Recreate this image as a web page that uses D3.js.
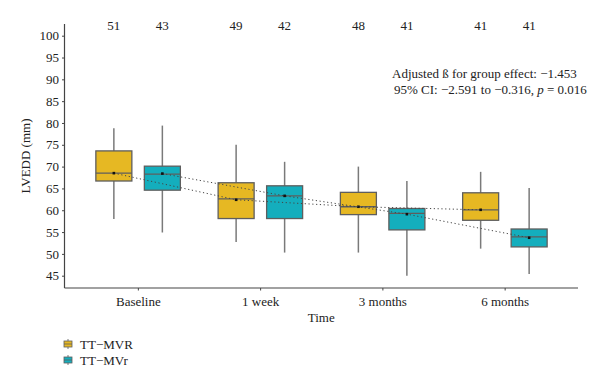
<!DOCTYPE html>
<html>
<head>
<meta charset="utf-8">
<script src="https://cdn.jsdelivr.net/npm/d3@7"></script>
<style>
  body { margin: 0; background: #fff; }
  svg text { font-family: "Liberation Serif", "DejaVu Serif", serif; fill: #222; }
</style>
</head>
<body>
<svg id="svg" width="600" height="386"></svg>
<script>
"use strict";
// data
const timepoints = ["Baseline", "1 week", "3 months", "6 months"];
const groups = ["TT\u2212MVR", "TT\u2212MVr"];
const groupColors = ["#e6b823", "#14aebd"];
// [whiskerLow, q1, median, q3, whiskerHigh, mean] per time point
const statsMVR = [
  [58.0, 66.7, 68.5, 73.6, 78.8, 68.5],
  [52.7, 58.1, 62.6, 66.3, 75.0, 62.4],
  [50.3, 59.0, 60.8, 64.1, 70.0, 60.8],
  [51.2, 57.7, 60.1, 64.0, 68.8, 60.1]
];
const statsMVr = [
  [54.9, 64.6, 68.3, 70.1, 79.4, 68.4],
  [50.3, 58.1, 63.3, 65.6, 71.1, 63.3],
  [45.0, 55.5, 59.3, 60.4, 66.7, 59.1],
  [45.4, 51.6, 53.9, 55.7, 65.1, 53.7]
];
const countsMVR = [51, 49, 48, 41];
const countsMVr = [43, 42, 41, 41];
const yTicks = [45, 50, 55, 60, 65, 70, 75, 80, 85, 90, 95, 100];
const annotation = ["Adjusted \u00df for group effect: \u22121.453", "95% CI: \u22122.591 to \u22120.316, "];

function main() {
    const svg = d3.select("#svg");
    const left = 64.5, right = 578, top = 24, bottom = 288;

    const x = d3.scalePoint().domain(timepoints).range([left, right]).padding(0.6);
    const y = d3.scaleLinear().domain([45, 100]).range([275.7, 35.7]);
    const offset = [-24, 24.5];
    const boxW = 36;

    const allStats = [statsMVR, statsMVr];
    const allCounts = [countsMVR, countsMVr];

    // axes
    const yAxis = svg.append("g")
        .attr("transform", `translate(${left},0)`)
        .call(d3.axisLeft(y).tickValues(yTicks).tickSize(2.5).tickPadding(3));
    yAxis.select(".domain").remove();
    yAxis.selectAll("line").attr("stroke", "#444");
    yAxis.selectAll("text").attr("font-size", 13).attr("font-family", "Liberation Serif").attr("fill", "#222");

    const xAxis = svg.append("g")
        .attr("transform", `translate(0,${bottom})`)
        .call(d3.axisBottom(x).tickSize(2.5).tickPadding(6));
    xAxis.select(".domain").remove();
    xAxis.selectAll("line").attr("stroke", "#444");
    xAxis.selectAll("text").attr("font-size", 13).attr("font-family", "Liberation Serif").attr("fill", "#222");

    svg.append("line").attr("x1", left).attr("x2", left).attr("y1", top).attr("y2", bottom)
        .attr("stroke", "#444").attr("stroke-width", 1.2);
    svg.append("line").attr("x1", left).attr("x2", right).attr("y1", bottom).attr("y2", bottom)
        .attr("stroke", "#444").attr("stroke-width", 1.2);

    // boxes
    allStats.forEach((stats, g) => {
        const gg = svg.append("g");
        stats.forEach((s, i) => {
            const cx = x(timepoints[i]) + offset[g];
            gg.append("line").attr("x1", cx).attr("x2", cx)
                .attr("y1", y(s[0])).attr("y2", y(s[4]))
                .attr("stroke", "#7a7a7a").attr("stroke-width", 1.5);
            gg.append("rect").attr("x", cx - boxW / 2).attr("width", boxW)
                .attr("y", y(s[3])).attr("height", y(s[1]) - y(s[3]))
                .attr("fill", groupColors[g]).attr("stroke", "#5e5e5e").attr("stroke-width", 1.3);
            gg.append("line").attr("x1", cx - boxW / 2).attr("x2", cx + boxW / 2)
                .attr("y1", y(s[2])).attr("y2", y(s[2]))
                .attr("stroke", "#5e5e5e").attr("stroke-width", 1.3);
        });
    });

    // mean lines and dots
    allStats.forEach((stats, g) => {
        const line = d3.line()
            .x((d, i) => x(timepoints[i]) + offset[g])
            .y((d) => y(d[5]));
        svg.append("path").attr("d", line(stats))
            .attr("fill", "none").attr("stroke", "#444").attr("stroke-width", 1)
            .attr("stroke-dasharray", "1.2,2.6");
        svg.append("g").selectAll("rect").data(stats).enter().append("rect")
            .attr("x", (d, i) => x(timepoints[i]) + offset[g] - 1.3)
            .attr("y", (d) => y(d[5]) - 1.3)
            .attr("width", 2.6).attr("height", 2.6).attr("fill", "#111");
    });

    // counts on top
    allCounts.forEach((counts, g) => {
        svg.append("g").selectAll("text").data(counts).enter().append("text")
            .attr("x", (d, i) => x(timepoints[i]) + offset[g])
            .attr("y", 30)
            .attr("text-anchor", "middle").attr("font-size", 13)
            .text((d) => d);
    });

    // axis titles
    svg.append("text").attr("x", (left + right) / 2).attr("y", 322)
        .attr("text-anchor", "middle").attr("font-size", 13).text("Time");
    svg.append("text").attr("transform", `translate(30,${(top + bottom) / 2}) rotate(-90)`)
        .attr("text-anchor", "middle").attr("font-size", 13).text("LVEDD (mm)");

    // annotation
    svg.append("text").attr("x", 392).attr("y", 78).attr("font-size", 13).text(annotation[0]);
    const t2 = svg.append("text").attr("x", 394).attr("y", 94).attr("font-size", 13).text(annotation[1]);
    t2.append("tspan").attr("font-style", "italic").text("p");
    t2.append("tspan").text(" = 0.016");

    // legend
    groups.forEach((name, g) => {
        const ly = 344 + g * 16;
        const lg = svg.append("g");
        lg.append("line").attr("x1", 68).attr("x2", 68).attr("y1", ly - 5).attr("y2", ly + 5)
            .attr("stroke", "#7a7a7a").attr("stroke-width", 1);
        lg.append("rect").attr("x", 64).attr("y", ly - 3).attr("width", 8).attr("height", 6)
            .attr("fill", groupColors[g]).attr("stroke", "#5e5e5e").attr("stroke-width", 0.8);
        lg.append("line").attr("x1", 64).attr("x2", 72).attr("y1", ly).attr("y2", ly)
            .attr("stroke", "#5e5e5e").attr("stroke-width", 0.8);
        lg.append("text").attr("x", 80).attr("y", ly + 4.5).attr("font-size", 13).text(name);
    });
}
main();
</script>
</body>
</html>
